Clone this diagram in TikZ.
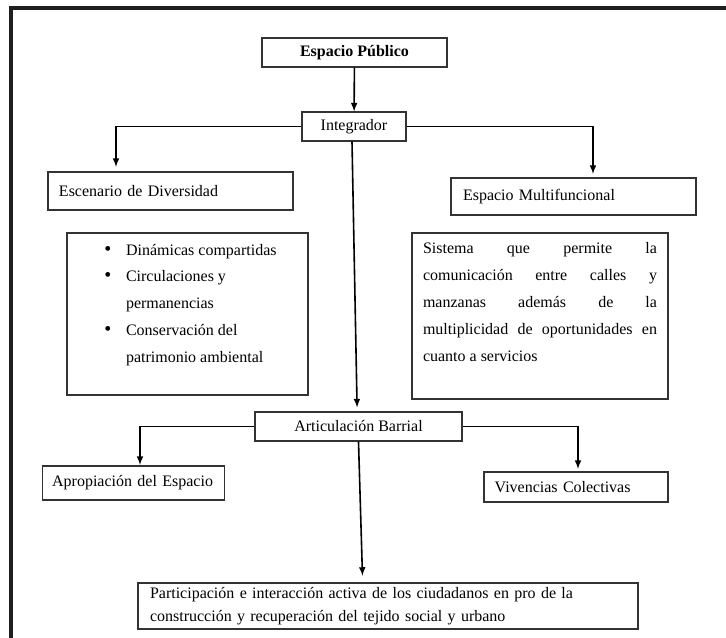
\documentclass[tikz,border=0pt]{standalone}
\usepackage{fontspec}
\setmainfont{Liberation Serif}
\usepackage{tikz}
\usetikzlibrary{arrows}

\begin{document}
\begin{tikzpicture}[x=0.75pt,y=-0.75pt,
	caja/.style={draw=black!80, line width=0.8pt, fill=white, font=\fontsize{12pt}{14pt}\selectfont},
	flecha/.style={line width=1.2pt, -latex}]
	% Page and frame
	\useasboundingbox (0,0) rectangle (726,638);
	\clip (0,0) rectangle (726,638);
	\fill[white] (0,0) rectangle (726,638);
	\draw[line width=3pt, black!88] (11,8.5) rectangle (760,680);
	
	% Top level
	\node[caja, minimum width=138.75pt, minimum height=21.75pt, font=\fontsize{12pt}{14pt}\selectfont\bfseries] (publico) at (354.5,52.5) {Espacio Público};
	\node[caja, minimum width=78pt, minimum height=21.75pt] (integ) at (354,126.5) {Integrador};
	
	% Second level
	\node[caja, text width=167.25pt, inner xsep=8.25pt, minimum height=28.5pt, align=left] (escen) at (170.5,191) {Escenario de Diversidad};
	\node[caja, text width=165.75pt, inner xsep=9pt, minimum height=27.75pt, align=left] (multi) at (573.5,196.5) {Espacio Multifuncional};
	
	% Detail boxes
	\node[caja, inner sep=0pt] (lista) at (187.5,314) {\parbox[c][121.5pt][t]{180.75pt}{\fontsize{12pt}{20.25pt}\selectfont
		\rule{0pt}{16.5pt}\hspace*{28pt}\makebox[16.25pt][l]{\fontsize{15pt}{15pt}\selectfont\textbullet}Dinámicas compartidas\\
		\hspace*{28pt}\makebox[16.25pt][l]{\fontsize{15pt}{15pt}\selectfont\textbullet}Circulaciones y\\
		\hspace*{44.25pt}permanencias\\
		\hspace*{28pt}\makebox[16.25pt][l]{\fontsize{15pt}{15pt}\selectfont\textbullet}Conservación del\\
		\hspace*{44.25pt}patrimonio ambiental}};
	\node[caja, inner xsep=8.25pt, inner ysep=0pt] (sistema) at (540,316) {\parbox[c][124.5pt][t]{175.5pt}{\fontsize{12pt}{20.25pt}\selectfont
		\rule{0pt}{15.5pt}\makebox[\linewidth][s]{Sistema que permite la}\\
		\makebox[\linewidth][s]{comunicación entre calles y}\\
		\makebox[\linewidth][s]{manzanas además de la}\\
		\makebox[\linewidth][s]{multiplicidad de oportunidades en}\\
		cuanto a servicios}};
	
	% Third level
	\node[caja, minimum width=155.25pt, minimum height=21.75pt] (artic) at (358.5,426.5) {Articulación Barrial};
	\node[caja, text width=122pt, inner xsep=7pt, minimum height=25.5pt, align=left] (apropia) at (133.5,483) {Apropiación del Espacio};
	\node[caja, text width=122pt, inner xsep=8pt, minimum height=22.5pt, align=left] (vivenc) at (576,487) {Vivencias Colectivas};
	\node[caja, text width=357pt, inner xsep=9pt, inner ysep=2pt, minimum height=34.5pt, align=left, font=\fontsize{12pt}{17.5pt}\selectfont] (partic) at (388,606) {\makebox[357pt][s]{Participación e interacción activa de los ciudadanos en pro de la}\\construcción y recuperación del tejido social y urbano};
	
	% Connectors
	\coordinate (escenin) at (116,167);
	\coordinate (multiin) at (593,174);
	\coordinate (apropin) at (140,465);
	\coordinate (vivin) at (578,469);
	\draw[flecha] (publico) -- (integ);
	\draw[flecha] (integ.west) -| (escenin);
	\draw[flecha] (integ.east) -| (multiin);
	\draw[flecha, shorten >=3pt] ([xshift=-1.5pt]integ.south) -- ([xshift=-1pt]artic.north);
	\draw[flecha] (artic.west) -| (apropin);
	\draw[flecha] (artic.east) -| (vivin);
	\draw[flecha, shorten >=5pt] (artic.south) -- ([xshift=-19pt]partic.north);
\end{tikzpicture}
\end{document}
